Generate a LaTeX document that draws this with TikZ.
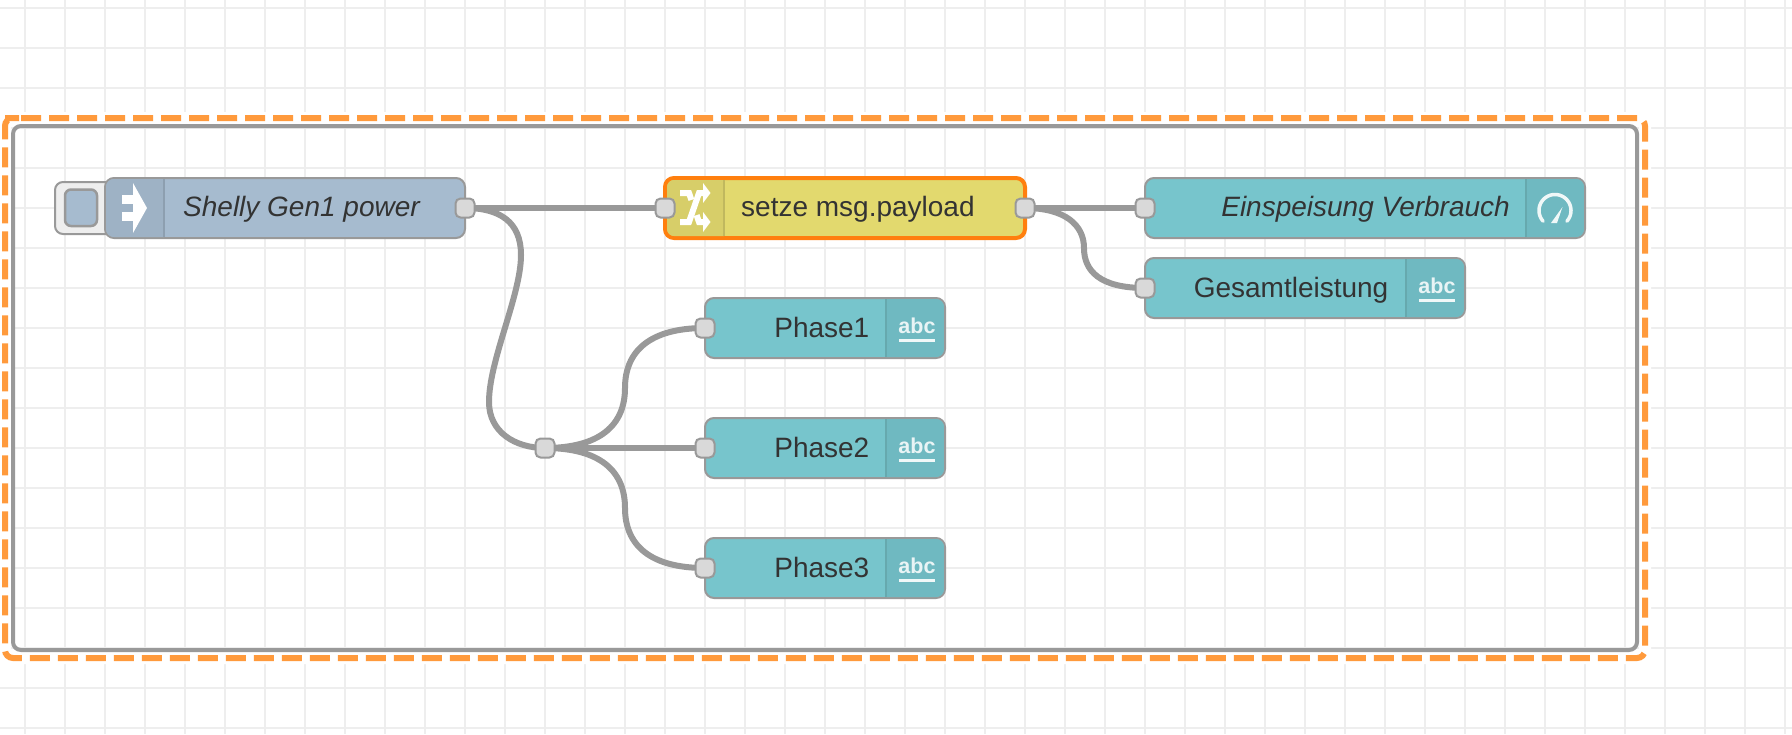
\documentclass[tikz,border=0pt]{standalone}
\usepackage{fontspec}
\setmainfont{Liberation Sans}
\definecolor{gridline}{HTML}{EEEEEE}
\definecolor{edge}{HTML}{999999}
\definecolor{selectdash}{HTML}{FF9A3C}
\definecolor{selectedge}{HTML}{FF7F0E}
\definecolor{portfill}{HTML}{D9D9D9}
\definecolor{labeltext}{HTML}{333333}
\definecolor{injectbody}{HTML}{A6BBCF}
\definecolor{injecticon}{HTML}{9EB2C5}
\definecolor{injectrule}{HTML}{8D9FB0}
\definecolor{changebody}{HTML}{E2D96E}
\definecolor{changeicon}{HTML}{D7CE69}
\definecolor{changerule}{HTML}{C0B85E}
\definecolor{tealbody}{HTML}{77C5CC}
\definecolor{tealicon}{HTML}{6FB9C1}
\definecolor{tealrule}{HTML}{66A9AE}
\pgfdeclarelayer{backdrop}
\pgfsetlayers{backdrop,main}
\tikzset{
  gridrule/.style={draw=gridline,line width=2pt},
  body/.style={rectangle,rounded corners=9pt,draw=edge,line width=2pt,inner sep=0pt,minimum height=60pt},
  port/.style={rectangle,rounded corners=5pt,draw=edge,line width=2pt,fill=portfill,inner sep=0pt,minimum size=19pt},
  wire/.style={draw=edge,line width=6pt},
  nodelabel/.style={inner sep=0pt,text=labeltext,font=\fontsize{28}{32}\selectfont},
  icontext/.style={inner sep=0pt,text=white,text opacity=.85,font=\fontsize{21.5}{24}\selectfont\bfseries},
  iconstroke/.style={draw=white,line width=3.5pt,draw opacity=.9},
}
% Body of a flow node with a shaded icon panel on one side.
% #1 name, #2 left, #3 right, #4 top, #5 body colour, #6 panel colour, #7 rule colour, #8 panel left, #9 panel right
\newcommand{\flowbody}[9]{%
  \pgfmathsetmacro{\bodycx}{(#2+#3)/2}%
  \pgfmathsetmacro{\bodycy}{#4+30}%
  \pgfmathsetmacro{\bodywd}{#3-#2}%
  \node[body,fill=#5,minimum width=\bodywd pt] (#1) at (\bodycx,\bodycy) {};
  \begin{scope}
    \clip[rounded corners=8pt] (#2+1,#4+1) rectangle (#3-1,#4+59);
    \fill[#6] (#8,#4) rectangle (#9,#4+60);
  \end{scope}
}
% Output node with text-style icon: #1 name, #2 left, #3 right, #4 top, #5 label, #6 label right end
\newcommand{\textnode}[6]{%
  \flowbody{#1}{#2}{#3}{#4}{tealbody}{tealicon}{tealrule}{#3-59}{#3}
  \draw[tealrule,line width=2pt] (#3-59,#4+1) -- (#3-59,#4+59);
  \node[nodelabel,anchor=base east] (#1label) at (#6,#4+39) {#5};
  \node[icontext,anchor=base] (#1icon) at (#3-28,#4+35) {abc};
  \fill[white,fill opacity=.9] (#3-46,#4+40.5) rectangle (#3-10,#4+43.5);
  \node[port] (#1in) at (#2,#4+30) {};
}
\begin{document}
\begin{tikzpicture}[x=1pt,y=-1pt]
\useasboundingbox (0,0) rectangle (1792,734);

% Inject node with its push button
\draw[edge,fill=gridline,line width=2pt,rounded corners=8pt] (55,182) rectangle (125,234);
\draw[edge,fill=injectbody,line width=2.5pt,rounded corners=6pt] (65,189.5) rectangle (97,226);
\flowbody{inject}{105}{465}{178}{injectbody}{injecticon}{injectrule}{105}{164}
\draw[injectrule,line width=2pt] (164,179) -- (164,237);
\fill[white] (122,195) rectangle (134,204);
\fill[white] (122,212) rectangle (134,221);
\fill[white] (133,183) -- (147,208) -- (133,233) -- cycle;
\node[nodelabel,anchor=base west,font=\fontsize{28}{32}\selectfont\itshape] (injectlabel) at (183,216) {Shelly Gen1 power};
\node[port] (injectout) at (465,208) {};

% Change node, selected
\node[body,fill=changebody,draw=selectedge,line width=4pt,minimum width=360pt] (change) at (845,208) {};
\begin{scope}
  \clip[rounded corners=7pt] (667,180) rectangle (1023,236);
  \fill[changeicon] (665,178) rectangle (724,238);
\end{scope}
\draw[changerule,line width=2pt] (724,180) -- (724,236);
\draw[white,line width=6pt] (680,193) -- (689,193) -- (699,222) -- (704,222);
\draw[changeicon,line width=9pt] (691.5,200) -- (696.5,215);
\draw[white,line width=6pt] (680,222) -- (689,222) -- (699,193) -- (704,193);
\fill[white] (703,183) -- (710.5,193) -- (703,203) -- cycle;
\fill[white] (703,212) -- (710.5,222) -- (703,232) -- cycle;
\node[nodelabel,anchor=base west] (changelabel) at (741,216) {setze msg.payload};
\node[port] (changein) at (665,208) {};
\node[port] (changeout) at (1025,208) {};

% Gauge node
\flowbody{gauge}{1145}{1585}{178}{tealbody}{tealicon}{tealrule}{1526}{1585}
\draw[tealrule,line width=2pt] (1526,179) -- (1526,237);
\draw[iconstroke,line cap=round] plot[domain=138:402,samples=50] ({1555+16*cos(\x)},{210.5+16*sin(\x)});
\fill[white,fill opacity=.9] (1551,223) -- (1557,223) -- (1562.5,207) -- cycle;
\node[nodelabel,anchor=base east,font=\fontsize{28}{32}\selectfont\itshape] (gaugelabel) at (1510,216) {Einspeisung Verbrauch};
\node[port] (gaugein) at (1145,208) {};

% Text output nodes
\textnode{total}{1145}{1465}{258}{Gesamtleistung}{1388.5}
\textnode{phaseone}{705}{945}{298}{Phase1}{869.5}
\textnode{phasetwo}{705}{945}{418}{Phase2}{869.5}
\textnode{phasethree}{705}{945}{538}{Phase3}{869.5}

% Junction
\node[port] (junction) at (545,448) {};

\begin{pgfonlayer}{backdrop}
  \fill[white] (0,0) rectangle (1792,734);
  % Workspace grid
  \foreach \gx in {0,...,44} \draw[gridrule] ({25+40*\gx},0) -- ({25+40*\gx},734);
  \foreach \gy in {0,...,18} \draw[gridrule] (0,{8+40*\gy}) -- (1792,{8+40*\gy});
  % Group frame and its selection outline
  \draw[white,line width=12pt,rounded corners=8pt] (13,118) -- (1645,118) -- (1645,658) -- (5,658) -- (5,118) -- cycle;
  \draw[edge,line width=4pt,rounded corners=8pt] (13,126) rectangle (1637,650);
  \draw[selectdash,line width=6pt,rounded corners=8pt,dash pattern=on 20pt off 8pt] (13,118) -- (1645,118) -- (1645,658) -- (5,658) -- (5,118) -- cycle;
  % Wires
  \draw[wire] (injectout.center) -- (changein.center);
  \draw[wire] (changeout.center) -- (gaugein.center);
  \draw[wire] (changeout.center) .. controls (1065,208) and (1084,225) .. (1084,248)
                                 .. controls (1084,271) and (1100,288) .. (totalin.center);
  \draw[wire] (injectout.center) .. controls (500,208) and (521,222) .. (521,255)
                                 .. controls (521,295) and (489,360) .. (489,402)
                                 .. controls (489,432) and (515,448) .. (junction.center);
  \draw[wire] (junction.center) .. controls (600,448) and (625,425) .. (625,388)
                                .. controls (625,351) and (650,328) .. (phaseonein.center);
  \draw[wire] (junction.center) -- (phasetwoin.center);
  \draw[wire] (junction.center) .. controls (600,448) and (625,471) .. (625,508)
                                .. controls (625,545) and (650,568) .. (phasethreein.center);
\end{pgfonlayer}
\end{tikzpicture}
\end{document}
